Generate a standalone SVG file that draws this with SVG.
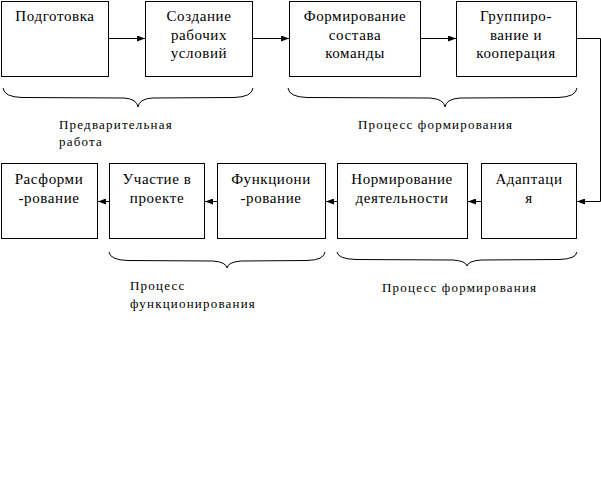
<svg xmlns="http://www.w3.org/2000/svg" width="601" height="490" viewBox="0 0 601 490">
<style>
.box{fill:#fff;stroke:#000;stroke-width:1}
.t{font-family:"Liberation Serif",serif;font-size:15px;text-anchor:middle;fill:#000;letter-spacing:0.6px}
.l{font-family:"Liberation Serif",serif;font-size:13px;fill:#000;letter-spacing:1.2px}
.c{fill:none;stroke:#000;stroke-width:1}
</style>
<defs>
<marker id="ah" markerWidth="8" markerHeight="6" refX="8" refY="3" orient="auto" markerUnits="userSpaceOnUse">
<path d="M0,0 L8,3 L0,6 Z" fill="#000"/>
</marker>
</defs>
<rect width="601" height="490" fill="#fff"/>
<g id="n1"><rect class="box" x="1.5" y="1.5" width="107" height="75"/><text class="t" x="55" y="21">Подготовка</text></g>
<g id="n2"><rect class="box" x="145.5" y="1.5" width="107" height="75"/><text class="t" x="199" y="21">Создание</text><text class="t" x="199" y="39.5">рабочих</text><text class="t" x="199" y="58">условий</text></g>
<g id="n3"><rect class="box" x="289.5" y="1.5" width="131" height="75"/><text class="t" x="355" y="21">Формирование</text><text class="t" x="355" y="39.5">состава</text><text class="t" x="355" y="58">команды</text></g>
<g id="n4"><rect class="box" x="456.5" y="1.5" width="120" height="75"/><text class="t" x="516" y="21">Группиро-</text><text class="t" x="516" y="39.5">вание и</text><text class="t" x="516" y="58">кооперация</text></g>
<g id="n5"><rect class="box" x="481.5" y="163.5" width="95" height="75"/><text class="t" x="529" y="184">Адаптаци</text><text class="t" x="529" y="203">я</text></g>
<g id="n6"><rect class="box" x="337.5" y="163.5" width="130" height="75"/><text class="t" x="402" y="184">Нормирование</text><text class="t" x="402" y="203">деятельности</text></g>
<g id="n7"><rect class="box" x="217.5" y="163.5" width="108" height="75"/><text class="t" x="271" y="184">Функциони</text><text class="t" x="271" y="203">-рование</text></g>
<g id="n8"><rect class="box" x="109.5" y="163.5" width="95" height="75"/><text class="t" x="157" y="184">Участие в</text><text class="t" x="157" y="203">проекте</text></g>
<g id="n9"><rect class="box" x="1.5" y="163.5" width="96" height="75"/><text class="t" x="49" y="184">Расформи</text><text class="t" x="49" y="203">-рование</text></g>
<g id="connectors">
<path class="c" d="M109,38.5 H145" marker-end="url(#ah)"/>
<path class="c" d="M253,38.5 H289" marker-end="url(#ah)"/>
<path class="c" d="M421,38.5 H456" marker-end="url(#ah)"/>
<path class="c" d="M577,38.5 H600.5 V201.5 H577" marker-end="url(#ah)"/>
<path class="c" d="M481,201.5 H468" marker-end="url(#ah)"/>
<path class="c" d="M337,201.5 H326" marker-end="url(#ah)"/>
<path class="c" d="M217,201.5 H205" marker-end="url(#ah)"/>
<path class="c" d="M109,201.5 H98" marker-end="url(#ah)"/>
</g>
<g id="braces">
<path class="c" d="M3,88 Q4,97 22,97.5 L124,98 Q137,99 138,107 Q139,99 152,98 L234,97.5 Q252,97 253,88"/>
<path class="c" d="M288,88 Q289,97 307,97.5 L430,98 Q444,99 445,107 Q446,99 460,98 L558,97.5 Q576,97 577,88"/>
<path class="c" d="M109,252 Q110,260 128,260.5 L213,261 Q226,262 227,268 Q228,262 241,261 L307,260.5 Q324,260 325,252"/>
<path class="c" d="M337,252 Q338,259 356,259.5 L453,260 Q466,261 467,266 Q468,261 481,260 L559,259.5 Q576,259 577,252"/>
</g>
<g id="labels">
<text class="l" x="59" y="129">Предварительная</text>
<text class="l" x="59" y="146">работа</text>
<text class="l" x="358" y="129">Процесс формирования</text>
<text class="l" x="130" y="290">Процесс</text>
<text class="l" x="130" y="308">функционирования</text>
<text class="l" x="382" y="292">Процесс формирования</text>
</g>
</svg>
